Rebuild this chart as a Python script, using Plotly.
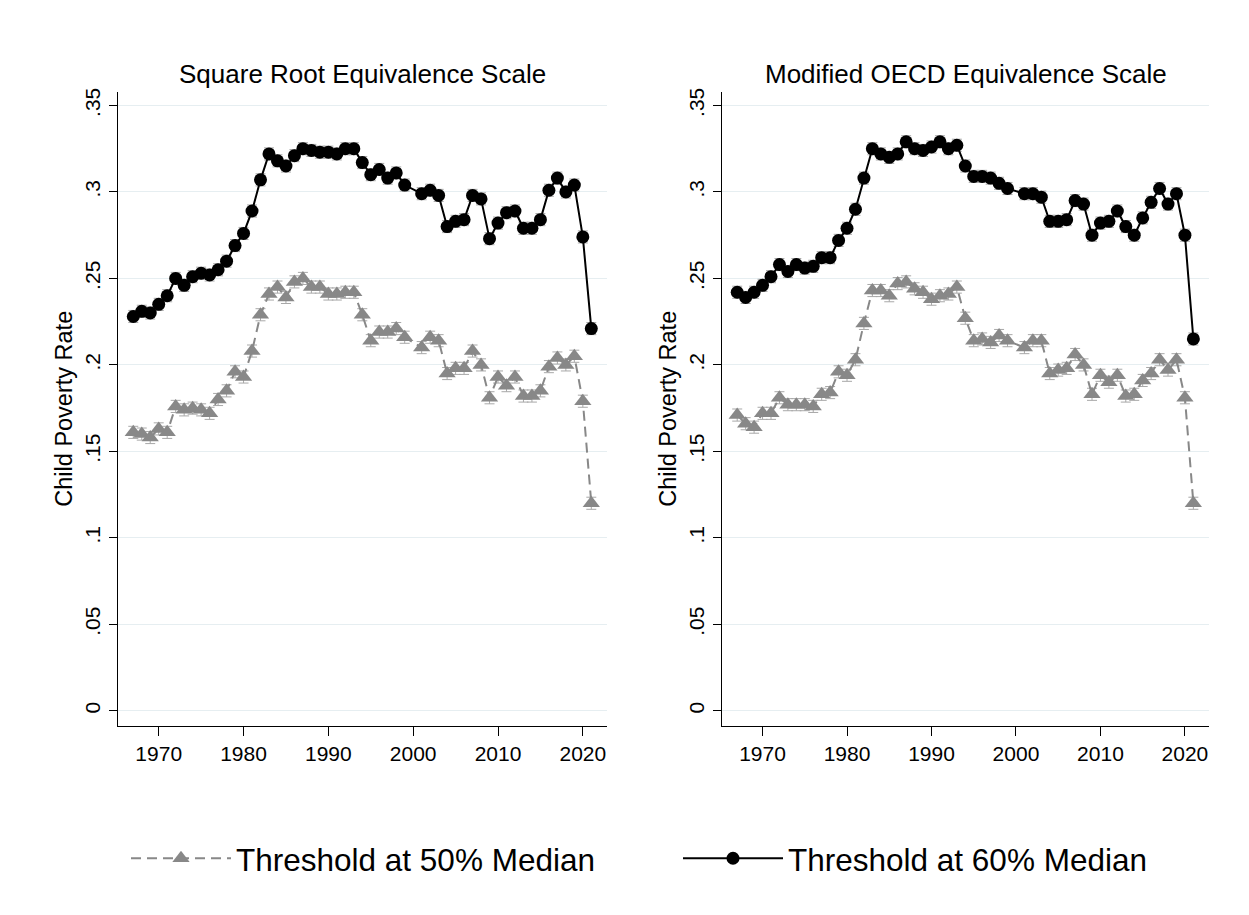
import plotly.graph_objects as go

# ---------------- data ----------------
years = [1967, 1968, 1969, 1970, 1971, 1972, 1973, 1974, 1975, 1976,
         1977, 1978, 1979, 1980, 1981, 1982, 1983, 1984, 1985, 1986,
         1987, 1988, 1989, 1990, 1991, 1992, 1993, 1994, 1995, 1996,
         1997, 1998, 1999, 2001, 2002, 2003, 2004, 2005, 2006, 2007,
         2008, 2009, 2010, 2011, 2012, 2013, 2014, 2015, 2016, 2017,
         2018, 2019, 2020, 2021]

# Square root equivalence scale
sqrt_60 = [0.228, 0.231, 0.230, 0.235, 0.240, 0.250, 0.246, 0.251, 0.253, 0.252,
           0.255, 0.260, 0.269, 0.276, 0.289, 0.307, 0.322, 0.318, 0.315, 0.321,
           0.325, 0.324, 0.323, 0.323, 0.322, 0.325, 0.325, 0.317, 0.310, 0.313,
           0.308, 0.311, 0.304, 0.299, 0.301, 0.298, 0.280, 0.283, 0.284, 0.298,
           0.296, 0.273, 0.282, 0.288, 0.289, 0.279, 0.279, 0.284, 0.301, 0.308,
           0.300, 0.304, 0.274, 0.221]
sqrt_50 = [0.161, 0.160, 0.158, 0.163, 0.161, 0.176, 0.174, 0.175, 0.174, 0.172,
           0.180, 0.185, 0.196, 0.193, 0.208, 0.229, 0.241, 0.245, 0.239, 0.248,
           0.250, 0.245, 0.245, 0.241, 0.241, 0.242, 0.242, 0.229, 0.214, 0.219,
           0.219, 0.221, 0.216, 0.210, 0.216, 0.214, 0.195, 0.198, 0.198, 0.208,
           0.200, 0.181, 0.193, 0.188, 0.193, 0.182, 0.182, 0.185, 0.199, 0.204,
           0.200, 0.205, 0.179, 0.120]

# Modified OECD equivalence scale
oecd_60 = [0.242, 0.239, 0.242, 0.246, 0.251, 0.258, 0.254, 0.258, 0.256, 0.257,
           0.262, 0.262, 0.272, 0.279, 0.290, 0.308, 0.325, 0.322, 0.320, 0.322,
           0.329, 0.325, 0.324, 0.326, 0.329, 0.325, 0.327, 0.315, 0.309, 0.309,
           0.308, 0.305, 0.302, 0.299, 0.299, 0.297, 0.283, 0.283, 0.284, 0.295,
           0.293, 0.275, 0.282, 0.283, 0.289, 0.280, 0.275, 0.285, 0.294, 0.302,
           0.293, 0.299, 0.275, 0.215]
oecd_50 = [0.171, 0.166, 0.164, 0.172, 0.172, 0.181, 0.177, 0.177, 0.177, 0.176,
           0.183, 0.184, 0.196, 0.194, 0.203, 0.224, 0.243, 0.243, 0.240, 0.247,
           0.248, 0.244, 0.242, 0.238, 0.240, 0.241, 0.245, 0.227, 0.214, 0.215,
           0.213, 0.217, 0.214, 0.210, 0.214, 0.214, 0.195, 0.197, 0.198, 0.206,
           0.200, 0.183, 0.194, 0.190, 0.194, 0.182, 0.183, 0.191, 0.195, 0.203,
           0.197, 0.203, 0.181, 0.120]

ci_half = 0.0035  # approximate half-width of the confidence caps

panel_titles = ["Square Root Equivalence Scale", "Modified OECD Equivalence Scale"]
legend_names = ["Threshold at 50% Median", "Threshold at 60% Median"]
y_tickvals = [0, 0.05, 0.1, 0.15, 0.2, 0.25, 0.3, 0.35]
y_ticktext = ["0", ".05", ".1", ".15", ".2", ".25", ".3", ".35"]
x_tickvals = [1970, 1980, 1990, 2000, 2010, 2020]

# ---------------- styling ----------------
FONT = "Liberation Sans, Arial, sans-serif"
GRAY = "#888888"
CAP = "#a8a8a8"
GRID = "#e6eef1"

OFF = 8                      # default page body margin of the browser
W, H = 1249 - OFF, 915 - OFF  # figure size so that it fits the window
fig = go.Figure()

panels = [(sqrt_50, sqrt_60, "x", "y"), (oecd_50, oecd_60, "x2", "y2")]
for i, (s50, s60, xa, ya) in enumerate(panels):
    fig.add_trace(go.Scatter(
        x=years, y=s50, xaxis=xa, yaxis=ya, mode="lines+markers",
        name=legend_names[0], showlegend=(i == 0), legendrank=1,
        line=dict(color=GRAY, width=2, dash="10px,6px"),
        marker=dict(symbol="triangle-up", size=15, color=GRAY),
        error_y=dict(type="constant", value=ci_half, color=CAP, thickness=1, width=5),
    ))
    fig.add_trace(go.Scatter(
        x=years, y=s60, xaxis=xa, yaxis=ya, mode="lines+markers",
        name=legend_names[1], showlegend=(i == 0), legendrank=2,
        line=dict(color="black", width=2),
        marker=dict(symbol="circle", size=13, color="black"),
        error_y=dict(type="constant", value=ci_half, color=CAP, thickness=1, width=5),
    ))

def px_x(p):
    return (p - OFF) / W

def px_y(p):
    return 1 - (p - OFF) / H

xdoms = [(px_x(118), px_x(607)), (px_x(722), px_x(1209))]
ydom = (px_y(725), px_y(88))

common_x = dict(
    range=[1965.2, 2022.85], tickvals=x_tickvals, showgrid=False, zeroline=False,
    showline=True, linecolor="black", linewidth=1.3, ticks="outside", ticklen=9,
    tickwidth=1.3, tickcolor="black", tickfont=dict(family=FONT, size=21, color="black"),
)
common_y = dict(
    range=[-0.0087, 0.358], tickvals=y_tickvals, ticktext=y_ticktext, tickangle=-90,
    showgrid=True, gridcolor=GRID, gridwidth=1.3, zeroline=False,
    showline=True, linecolor="black", linewidth=1.3, ticks="outside", ticklen=8,
    tickwidth=1.3, tickcolor="black", tickfont=dict(family=FONT, size=21, color="black"),
    title=dict(text="Child Poverty Rate", font=dict(family=FONT, size=23.5, color="black"), standoff=2),
)

fig.update_layout(
    width=W, height=H,
    margin=dict(l=0, r=0, t=0, b=0),
    paper_bgcolor="white", plot_bgcolor="white",
    font=dict(family=FONT, color="black"),
    xaxis=dict(common_x, domain=list(xdoms[0]), anchor="y"),
    yaxis=dict(common_y, domain=list(ydom), anchor="x"),
    xaxis2=dict(common_x, domain=list(xdoms[1]), anchor="y2"),
    yaxis2=dict(common_y, domain=list(ydom), anchor="x2"),
    legend=dict(orientation="h", x=px_x(126), xanchor="left", y=px_y(858), yanchor="middle",
                font=dict(family=FONT, size=31.5, color="black"), entrywidth=437,
                itemwidth=100, bgcolor="rgba(0,0,0,0)"),
    showlegend=True,
)

for i, t in enumerate(panel_titles):
    fig.add_annotation(
        text=t, x=sum(xdoms[i]) / 2, y=px_y(70), xref="paper", yref="paper",
        xanchor="center", yanchor="middle", showarrow=False,
        font=dict(family=FONT, size=26, color="black"),
    )

fig.write_html("out.html")
